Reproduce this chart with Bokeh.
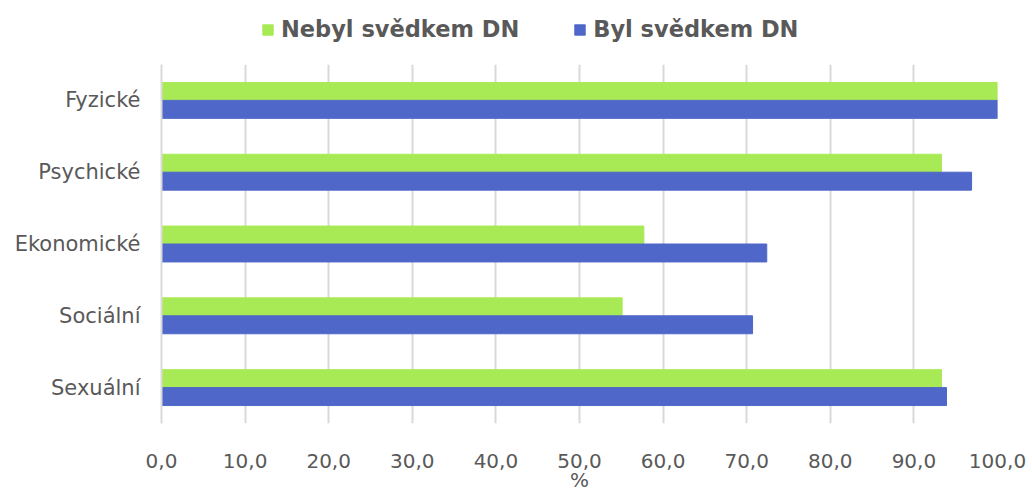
from bokeh.plotting import figure
from bokeh.layouts import column
from bokeh.models import ColumnDataSource, FactorRange, Range1d, FixedTicker, Legend, LegendItem
from bokeh.transform import dodge
from bokeh.embed import file_html
from bokeh.resources import INLINE

categories = ["Fyzické", "Psychické", "Ekonomické", "Sociální", "Sexuální"]
nebyl = [100.0, 93.3, 57.7, 55.1, 93.3]
byl = [100.0, 96.9, 72.4, 70.7, 93.9]
series_names = ["Nebyl svědkem DN", "Byl svědkem DN"]
tick_values = [0, 10, 20, 30, 40, 50, 60, 70, 80, 90, 100]
tick_labels = ["0,0", "10,0", "20,0", "30,0", "40,0", "50,0", "60,0", "70,0", "80,0", "90,0", "100,0"]

GREEN = "#a8ea55"
BLUE = "#4f67c8"
TXT = "#595959"
FONT = "DejaVu Sans"

W = 1030
TOP_H = 64
MAIN_H = 432

src = ColumnDataSource(dict(cat=categories, nebyl=nebyl, byl=byl))

# ---- legend strip on top (swatch renderers sit outside the visible canvas) ----
top = figure(width=W, height=TOP_H, output_backend="svg", toolbar_location=None,
             x_range=Range1d(0, 1), y_range=Range1d(0, 1),
             x_axis_type=None, y_axis_type=None, min_border=0)
top.outline_line_color = None
swatch = ColumnDataSource(dict(y=[-20], left=[-6], right=[-5]))
d1 = top.hbar(y="y", right="right", left="left", height=0.5, source=swatch,
              fill_color=GREEN, line_color=GREEN)
d2 = top.hbar(y="y", right="right", left="left", height=0.5, source=swatch,
              fill_color=BLUE, line_color=BLUE)
legend = Legend(items=[LegendItem(label=series_names[0], renderers=[d1]),
                       LegendItem(label=series_names[1], renderers=[d2])],
                orientation="horizontal", location=(100, 22))
legend.padding = 0
legend.margin = 0
legend.spacing = 54
legend.border_line_color = None
legend.background_fill_alpha = 0
legend.glyph_width = 13
legend.glyph_height = 13
legend.label_standoff = 7
legend.label_text_font = FONT
legend.label_text_font_size = "22.5px"
legend.label_text_font_style = "bold"
legend.label_text_color = TXT
top.add_layout(legend, "center")

# ---- main chart ----
p = figure(width=W, height=MAIN_H, output_backend="svg", toolbar_location=None,
           y_range=FactorRange(*list(reversed(categories)), range_padding=0),
           x_range=Range1d(0, 100))
p.min_border_left = 161
p.min_border_right = W - 997
p.min_border_top = 0
p.min_border_bottom = MAIN_H - (423 - TOP_H)
p.outline_line_color = None

r1 = p.hbar(y=dodge("cat", 0.125, range=p.y_range), right="nebyl", left=0, height=0.25,
            source=src, fill_color=GREEN, line_color=GREEN)
r2 = p.hbar(y=dodge("cat", -0.125, range=p.y_range), right="byl", left=0, height=0.25,
            source=src, fill_color=BLUE, line_color=BLUE)

xa = p.xaxis[0]
xa.ticker = FixedTicker(ticks=tick_values)
xa.major_label_overrides = {v: l for v, l in zip(tick_values, tick_labels)}
xa.axis_line_color = None
xa.major_tick_line_color = None
xa.minor_tick_line_color = None
xa.major_label_text_font = FONT
xa.major_label_text_font_size = "20px"
xa.major_label_text_color = TXT
xa.major_label_standoff = 24
xa.axis_label = "%"
xa.axis_label_text_font = FONT
xa.axis_label_text_font_size = "20px"
xa.axis_label_text_font_style = "normal"
xa.axis_label_text_color = TXT
xa.axis_label_standoff = -3

ya = p.yaxis[0]
ya.axis_line_color = "#d9d9d9"
ya.axis_line_width = 2
ya.major_tick_line_color = None
ya.minor_tick_line_color = None
ya.major_label_text_font = FONT
ya.major_label_text_font_size = "21px"
ya.major_label_text_color = TXT
ya.major_label_standoff = 15

p.xgrid.grid_line_color = "#d9d9d9"
p.xgrid.grid_line_width = 2
p.ygrid.grid_line_color = None

layout = column(top, p, spacing=0)
open("out.html", "w").write(file_html(layout, INLINE))
